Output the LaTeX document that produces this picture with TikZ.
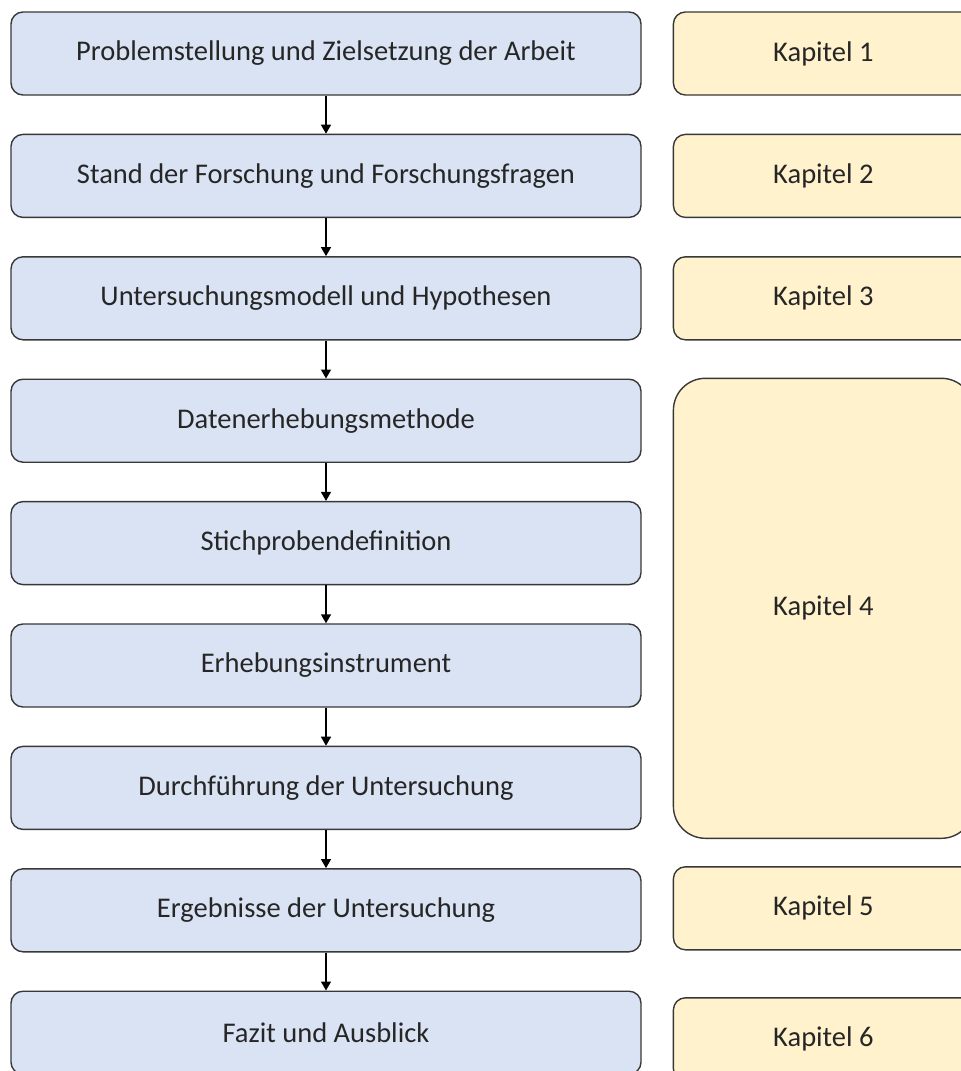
\documentclass[tikz,border=0pt]{standalone}
\usepackage{fontspec}
\setmainfont{Carlito}
\usepackage{tikz}
\usetikzlibrary{shapes, arrows.meta, calc, positioning}
\definecolor{stepblue}{HTML}{DAE3F3}
\definecolor{chapyellow}{HTML}{FFF2CC}
\definecolor{edgegray}{HTML}{383838}
\tikzstyle{block} = [rectangle, draw=edgegray, line width=1.4pt, fill=stepblue, minimum width=630pt, minimum height=83pt, text centered, rounded corners=12pt, text=black!85, font=\fontsize{28.5}{32}\selectfont]
\tikzstyle{chapter} = [rectangle, draw=edgegray, line width=1.4pt, fill=chapyellow, minimum width=300pt, minimum height=83pt, text centered, rounded corners=12pt, text=black!85, font=\fontsize{28.5}{32}\selectfont]
\tikzstyle{line} = [draw, line width=1.4pt, -{Triangle[width=10pt,length=9pt]}]

\begin{document}
\begin{tikzpicture}[node distance = 38pt, auto]
                        \useasboundingbox[fill=white] (0,0) rectangle (961pt,-1071pt);
                        \clip (0,0) rectangle (961pt,-1071pt);
                        \node[block] (problem) at (326pt,-53.5pt) {Problemstellung und Zielsetzung der Arbeit};
                        \node[block, below=of problem] (stand) {Stand der Forschung und Forschungsfragen};
                        \node[block, below=of stand] (modell) {Untersuchungsmodell und Hypothesen};
                        \node[block, below=of modell] (methode) {Datenerhebungsmethode};
                        \node[block, below=of methode] (stichprobe) {Stichprobendefinition};
                        \node[block, below=of stichprobe] (instrument) {Erhebungsinstrument};
                        \node[block, below=of instrument] (durchfuehrung) {Durchführung der Untersuchung};
                        \node[block, below=of durchfuehrung] (ergebnisse) {Ergebnisse der Untersuchung};
                        \node[block, below=of ergebnisse] (fazit) {Fazit und Ausblick};
                        % chapters
                        \node[chapter, right=31pt of problem] (kap1) {Kapitel 1};
                        \node[chapter, right=31pt of stand] (kap2) {Kapitel 2};
                        \node[chapter, right=31pt of modell] (kap3) {Kapitel 3};
                        \node[chapter, minimum height=460pt, rounded corners=32pt] (kap4) at ($(kap3)+(0,-310pt)$) {Kapitel 4};
                        \node[chapter, right=31pt of ergebnisse, yshift=2pt] (kap5) {Kapitel 5};
                        \node[chapter] (kap6) at ($(kap5)+(0,-131pt)$) {Kapitel 6};
                        % arrows
                        \path[line] (problem) -- (stand);
                        \path[line] (stand) -- (modell);
                        \path[line] (modell) -- (methode);
                        \path[line] (methode) -- (stichprobe);
                        \path[line] (stichprobe) -- (instrument);
                        \path[line] (instrument) -- (durchfuehrung);
                        \path[line] (durchfuehrung) -- (ergebnisse);
                        \path[line] (ergebnisse) -- (fazit);
                    \end{tikzpicture}
\end{document}
